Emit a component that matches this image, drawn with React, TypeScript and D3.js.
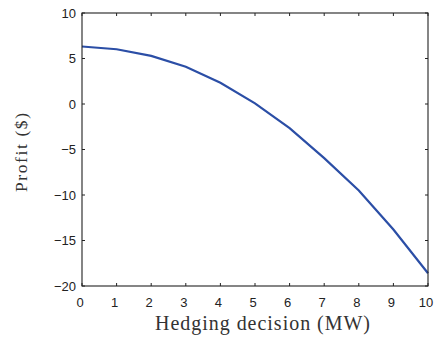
import React from "react";
import * as d3 from "d3";

const hedging = [0, 1, 2, 3, 4, 5, 6, 7, 8, 9, 10];
const profit = [6.32, 6.02, 5.29, 4.09, 2.33, 0.07, -2.66, -5.95, -9.5, -13.8, -18.6];
const xTicks = [0, 1, 2, 3, 4, 5, 6, 7, 8, 9, 10];
const yTicks = [-20, -15, -10, -5, 0, 5, 10];

const W = 436;
const H = 339;
const L = 82;
const R = 428;
const T = 13;
const B = 286;

export default function App() {
  const x = d3.scaleLinear().domain([0, 10]).range([L, R]);
  const y = d3.scaleLinear().domain([-20, 10]).range([B, T]);
  const line = d3
    .line<number>()
    .x((_, i) => x(hedging[i]))
    .y((d) => y(d));
  const tickFont = "'Liberation Sans', Arial, sans-serif";
  const labelFont = "'Liberation Serif', 'DejaVu Serif', serif";
  const tl = 3;
  return (
    <svg
      width={W}
      height={H}
      style={{ position: "absolute", left: 0, top: 0, background: "#fff" }}
    >
      <rect x={0} y={0} width={W} height={H} fill="#fff" />
      <path d={line(profit) || ""} fill="none" stroke="#2b4ea6" strokeWidth={2.2} />
      <rect x={L} y={T} width={R - L} height={B - T} fill="none" stroke="#222" strokeWidth={1.1} />
      {xTicks.map((t) => (
        <g key={"x" + t}>
          <line x1={x(t)} x2={x(t)} y1={B} y2={B - tl} stroke="#222" />
          <line x1={x(t)} x2={x(t)} y1={T} y2={T + tl} stroke="#222" />
          <text
            x={x(t) - 2}
            y={307}
            textAnchor="middle"
            fontFamily={tickFont}
            fontSize={13}
            fill="#222"
          >
            {t}
          </text>
        </g>
      ))}
      {yTicks.map((t) => (
        <g key={"y" + t}>
          <line x1={L} x2={L + tl} y1={y(t)} y2={y(t)} stroke="#222" />
          <line x1={R} x2={R - tl} y1={y(t)} y2={y(t)} stroke="#222" />
          <text
            x={76}
            y={y(t) + 4.5}
            textAnchor="end"
            fontFamily={tickFont}
            fontSize={13}
            fill="#222"
          >
            {t < 0 ? "\u2212" + Math.abs(t) : t}
          </text>
        </g>
      ))}
      <text
        x={155}
        y={330}
        textAnchor="start"
        fontFamily={labelFont}
        fontSize={20}
        textLength={215}
        lengthAdjust="spacing"
        fill="#333"
      >
        Hedging decision (MW)
      </text>
      <text
        transform="translate(26.5,192) rotate(-90)"
        textAnchor="start"
        fontFamily={labelFont}
        fontSize={17.5}
        textLength={79}
        lengthAdjust="spacing"
        fill="#333"
      >
        Profit ($)
      </text>
    </svg>
  );
}
